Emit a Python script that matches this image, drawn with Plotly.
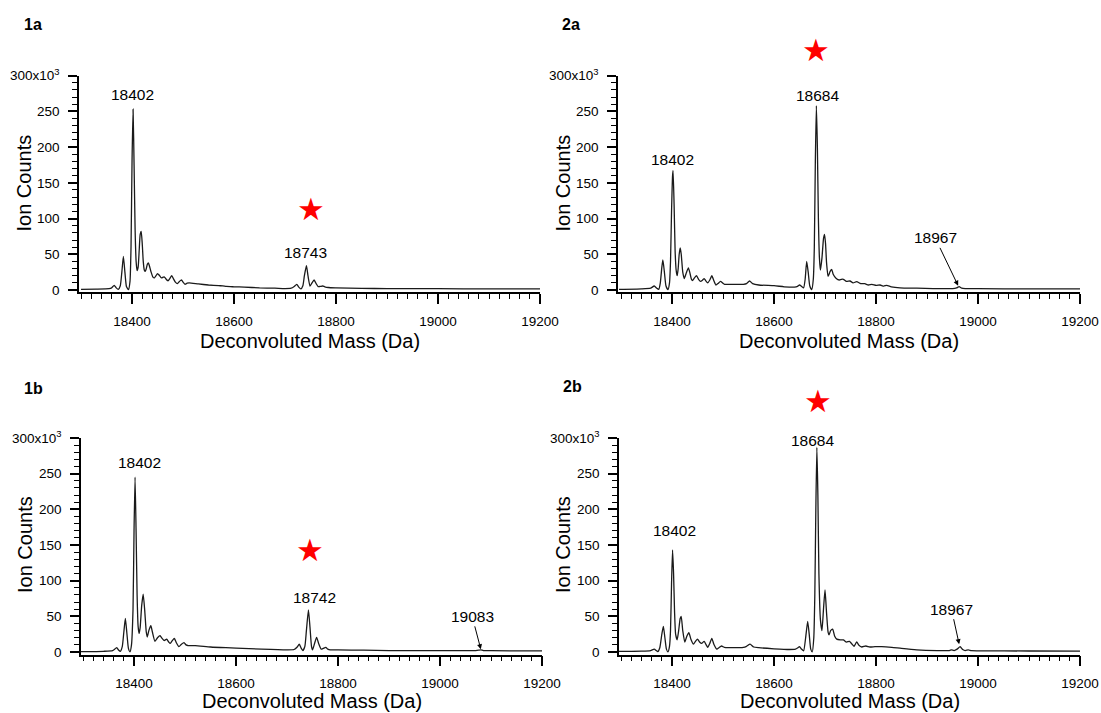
import plotly.graph_objects as go

# ---------------- data (mass in Da, ion counts in thousands) ----------------
mass_1a = [18300, 18330, 18355, 18360, 18365, 18369, 18373, 18377, 18380, 18383, 18386, 18389,
           18393, 18396, 18398, 18400, 18402, 18404, 18406, 18408, 18410, 18412, 18414, 18416,
           18418, 18420, 18422, 18424, 18426, 18428, 18430, 18432, 18434, 18437, 18441, 18444,
           18447, 18450, 18453, 18456, 18458, 18461, 18463, 18466, 18469, 18471, 18474, 18478,
           18481, 18485, 18489, 18493, 18497, 18500, 18504, 18508, 18512, 18530, 18550, 18570,
           18578, 18585, 18600, 18620, 18650, 18680, 18700, 18712, 18718, 18723, 18727, 18731,
           18735, 18738, 18742, 18745, 18749, 18753, 18757, 18761, 18765, 18769, 18774, 18778,
           18785, 18800, 18850, 18900, 19000, 19100, 19200]
counts_1a = [1.0, 1.2, 1.8, 3, 6.5, 3, 1.0, 6, 25, 47, 25, 5,
             0.5, 12, 60, 180, 253, 175, 85, 40, 27, 32, 55, 78,
             82, 65, 40, 28, 26, 30, 36, 38, 34, 26, 18, 17,
             20, 23, 21, 18, 17, 18, 18.5, 16, 13.5, 13, 16, 20,
             16, 11, 9, 12, 14, 11, 8, 9.5, 10, 8.5, 7, 6,
             5.8, 5, 4.5, 4, 3, 2.5, 2, 2.5, 5, 8, 4, 1.5,
             6, 20, 34, 20, 5.5, 10, 14, 9, 4.7, 5, 5.6, 4.5,
             3.5, 3, 2.2, 2, 1.8, 1.6, 1.5]

mass_2a = [18296, 18340, 18358, 18365, 18370, 18374, 18377, 18380, 18382, 18385, 18388, 18392,
           18395, 18397, 18399, 18401, 18402, 18404, 18406, 18408, 18410, 18412, 18414, 18416,
           18418, 18421, 18424, 18428, 18432, 18435, 18438, 18440, 18444, 18448, 18452, 18456,
           18460, 18463, 18466, 18470, 18474, 18478, 18482, 18486, 18490, 18495, 18499, 18503,
           18520, 18540, 18546, 18552, 18558, 18570, 18600, 18620, 18640, 18646, 18650, 18654,
           18658, 18661, 18664, 18667, 18670, 18674, 18677, 18679, 18681, 18683, 18685, 18687,
           18689, 18691, 18694, 18697, 18699, 18701, 18703, 18706, 18710, 18713, 18716, 18722,
           18728, 18732, 18736, 18742, 18749, 18755, 18762, 18770, 18778, 18785, 18792, 18800,
           18808, 18815, 18821, 18830, 18847, 18880, 18912, 18950, 18958, 18963, 18968, 18975,
           19000, 19100, 19200]
counts_2a = [0.8, 1.5, 2.5, 5.6, 2.5, 1, 10, 32, 42, 25, 6, 0.5,
             10, 40, 110, 160, 167, 120, 55, 28, 20, 30, 50, 59,
             50, 25, 16, 24, 31, 24, 15, 13, 17, 20, 15, 12,
             14, 16, 13, 10, 14, 20, 13, 7, 9, 12, 10, 8,
             8, 8, 9, 12.6, 9, 7, 6, 4.5, 4, 5, 7, 5,
             3, 15, 40, 25, 6, 0.5, 15, 60, 180, 258, 200, 100,
             45, 28, 45, 72, 78, 65, 38, 19, 26, 29, 22, 16,
             14, 15, 15, 12, 12.6, 10, 11.7, 9, 8.8, 7, 8, 6.5,
             7, 5.5, 6.5, 4.5, 3, 2.5, 2, 2, 3, 4.7, 2.5, 2,
             1.8, 1.6, 1.5]

mass_1b = [18296, 18340, 18358, 18366, 18370, 18373, 18377, 18380, 18383, 18386, 18389, 18392,
           18395, 18398, 18400, 18402, 18404, 18406, 18408, 18410, 18412, 18415, 18418, 18421,
           18424, 18426, 18429, 18433, 18436, 18441, 18446, 18451, 18455, 18459, 18464, 18468,
           18471, 18475, 18479, 18483, 18488, 18493, 18498, 18502, 18506, 18520, 18550, 18580,
           18600, 18650, 18700, 18714, 18720, 18724, 18728, 18731, 18735, 18738, 18742, 18745,
           18748, 18750, 18754, 18758, 18762, 18767, 18771, 18776, 18780, 18785, 18800, 18850,
           18900, 19000, 19070, 19076, 19080, 19085, 19100, 19200]
counts_1b = [0.5, 1, 2, 6, 2.5, 1, 8, 28, 47, 26, 5, 0.3,
             10, 60, 170, 245, 170, 80, 36, 26, 34, 65, 81, 58,
             28, 21, 30, 37, 28, 15, 20, 23, 19, 16, 18, 14,
             12, 16, 19, 13, 7.5, 11, 13, 10, 9, 9, 7, 6,
             5.5, 4, 3, 3.5, 7, 11, 5, 2, 8, 30, 59, 35,
             8, 3, 12, 20.6, 12, 4, 5, 6.6, 4, 3, 3, 2.5,
             2, 2, 2, 2.5, 3, 2, 1.8, 1.5]

mass_2b = [18296, 18340, 18358, 18365, 18369, 18372, 18376, 18380, 18383, 18386, 18389, 18392,
           18395, 18397, 18399, 18401, 18403, 18405, 18407, 18410, 18413, 18416, 18418, 18421,
           18425, 18429, 18433, 18437, 18442, 18446, 18450, 18454, 18458, 18463, 18467, 18470,
           18474, 18478, 18482, 18488, 18492, 18497, 18503, 18520, 18540, 18546, 18553, 18560,
           18570, 18600, 18630, 18642, 18647, 18650, 18654, 18658, 18662, 18666, 18669, 18672,
           18675, 18678, 18680, 18682, 18684, 18686, 18688, 18691, 18694, 18697, 18700, 18703,
           18706, 18708, 18711, 18715, 18719, 18723, 18730, 18736, 18742, 18748, 18753, 18757,
           18762, 18767, 18772, 18780, 18788, 18798, 18811, 18831, 18850, 18880, 18920, 18944,
           18948, 18953, 18959, 18965, 18970, 18975, 18981, 18987, 19000, 19100, 19200]
counts_2b = [0.8, 1.2, 2, 4, 2, 0.5, 6, 25, 36, 20, 4, 0.3,
             8, 30, 95, 143, 110, 55, 25, 17, 30, 47, 50, 30,
             14, 22, 27, 18, 11, 15, 18, 14, 12, 15, 10, 6.6,
             12, 19, 11, 4, 6, 8.4, 6.5, 6, 6.5, 8, 11, 7,
             6, 4.5, 3.5, 4, 6, 7.5, 4, 1.5, 20, 43, 25, 4,
             0.3, 20, 80, 200, 287, 220, 110, 45, 30, 60, 87, 55,
             28, 24, 30, 32, 22, 18, 17, 17, 14, 15, 11, 8,
             14, 9, 7, 8.4, 7, 7.5, 7.5, 6.5, 5, 3, 2, 2,
             3, 2, 4, 7.5, 3.5, 2, 3, 1.8, 1.6, 1.4, 1.3]

panel_names = ["1a", "2a", "1b", "2b"]
x_ticks = [18400, 18600, 18800, 19000, 19200]
y_ticks = [0, 50, 100, 150, 200, 250, 300]
y_ticktext = ["0", "50", "100", "150", "200", "250", "300x10<sup>3</sup>"]

# peak labels: (text, mass, counts_k)
labels_1a = [("18402", 18400, 273), ("18743", 18741, 53)]
labels_2a = [("18402", 18400, 182), ("18684", 18686, 272)]
labels_1b = [("18402", 18410, 266), ("18742", 18753, 77)]
labels_2b = [("18402", 18404, 170), ("18684", 18676, 296)]
# arrow labels: (text, label mass, label counts, tip mass, tip counts)
arrows_2a = [("18967", 18916, 73, 18961, 6)]
arrows_1b = [("19083", 19063, 50, 19080, 4)]
arrows_2b = [("18967", 18948, 60, 18963, 11)]
# star marks: mass, and pixel row of the star centre (they sit above the peaks)
star_mass = [18750, 18682, 18746, 18686]
star_page_y = [211, 52, 552, 403]

# ---------------- layout geometry ----------------
W, H = 1101, 713
FONT = "Liberation Sans, Arial, Helvetica, sans-serif"

panels = [
    dict(mass=mass_1a, counts=counts_1a, labels=labels_1a, arrows=[],
         xpx=(79, 540), xr=(18296, 19200), ypx=(292, 75.7), yr=(-2.8, 300),
         name_pos=(33, 24), xt_pos=(310, 341), yt_pos=(23.5, 183)),
    dict(mass=mass_2a, counts=counts_2a, labels=labels_2a, arrows=arrows_2a,
         xpx=(618, 1080), xr=(18294, 19200), ypx=(292, 75.7), yr=(-2.8, 300),
         name_pos=(571, 24), xt_pos=(849, 341), yt_pos=(562.5, 183)),
    dict(mass=mass_1b, counts=counts_1b, labels=labels_1b, arrows=arrows_1b,
         xpx=(81, 542), xr=(18296, 19200), ypx=(654.5, 438), yr=(-3.5, 300),
         name_pos=(33, 388), xt_pos=(312, 701), yt_pos=(25, 545)),
    dict(mass=mass_2b, counts=counts_2b, labels=labels_2b, arrows=arrows_2b,
         xpx=(619, 1080), xr=(18296, 19200), ypx=(654.5, 438), yr=(-3.5, 300),
         name_pos=(572, 386), xt_pos=(850, 701), yt_pos=(563, 545)),
]

fig = go.Figure()
annotations = []
layout_axes = {}

def ann(**kw):
    base = dict(showarrow=False, xanchor="center", yanchor="middle")
    base.update(kw)
    annotations.append(base)

for i, p in enumerate(panels):
    n = "" if i == 0 else str(i + 1)
    xa, ya = "x" + n, "y" + n
    fig.add_trace(go.Scatter(x=p["mass"], y=p["counts"], mode="lines",
                             line=dict(color="#1a1a1a", width=1.3, shape="spline", smoothing=0.5),
                             xaxis=xa, yaxis=ya, showlegend=False, hoverinfo="x+y"))
    common = dict(showline=True, linecolor="black", linewidth=1.5, showgrid=False,
                  zeroline=False, ticks="outside", tickwidth=1.5, tickcolor="black",
                  automargin=False, ticklabelstandoff=6,
                  tickfont=dict(family=FONT, size=13.5, color="black"))
    layout_axes["xaxis" + n] = dict(
        domain=[p["xpx"][0] / W, p["xpx"][1] / W], range=list(p["xr"]), anchor=ya,
        ticklen=10, tickvals=x_ticks, ticktext=[str(v) for v in x_ticks],
        minor=dict(ticks="outside", ticklen=5, tickwidth=1.2, tickcolor="black",
                   tick0=18300, dtick=20, showgrid=False),
        **common)
    layout_axes["yaxis" + n] = dict(
        domain=[1 - p["ypx"][0] / H, 1 - p["ypx"][1] / H], range=list(p["yr"]), anchor=xa,
        ticklen=9, tickvals=y_ticks, ticktext=y_ticktext,
        minor=dict(ticks="outside", ticklen=5, tickwidth=1.2, tickcolor="black",
                   tick0=0, dtick=10, showgrid=False),
        **common)
    ann(text="<b>%s</b>" % panel_names[i], xref="paper", yref="paper",
        x=p["name_pos"][0] / W, y=1 - p["name_pos"][1] / H,
        font=dict(family=FONT, size=16, color="black"))
    ann(text="Deconvoluted Mass (Da)", xref="paper", yref="paper",
        x=p["xt_pos"][0] / W, y=1 - p["xt_pos"][1] / H,
        font=dict(family=FONT, size=20, color="black"))
    ann(text="Ion Counts", xref="paper", yref="paper", textangle=-90,
        x=p["yt_pos"][0] / W, y=1 - p["yt_pos"][1] / H,
        font=dict(family=FONT, size=20, color="black"))
    for (t, mx, my) in p["labels"]:
        ann(text=t, x=mx, y=my, xref=xa, yref=ya,
            font=dict(family=FONT, size=15.5, color="black"))
    for (t, lx, ly, tx, ty) in p["arrows"]:
        annotations.append(dict(text=t, x=tx, y=ty, ax=lx, ay=ly, xref=xa, yref=ya,
                                axref=xa, ayref=ya, showarrow=True, arrowhead=2,
                                arrowsize=1, arrowwidth=1, arrowcolor="black",
                                font=dict(family=FONT, size=15.5, color="black")))
    # red star above the modified-protein peak
    ann(text="\u2605", x=star_mass[i], xref=xa, yref="paper",
        y=1 - star_page_y[i] / H, yshift=2,
        font=dict(family="DejaVu Sans", size=31, color="#ff0000"))

fig.update_layout(
    template="none",
    width=W, height=H, margin=dict(l=0, r=0, t=0, b=0, pad=0), autosize=False,
    paper_bgcolor="white", plot_bgcolor="white",
    font=dict(family=FONT, color="black"),
    annotations=annotations, showlegend=False, **layout_axes,
)

fig.write_html("out.html", config={"displayModeBar": False},
               post_script="document.body.style.margin='0px';"
                           "document.documentElement.style.overflow='hidden';")
